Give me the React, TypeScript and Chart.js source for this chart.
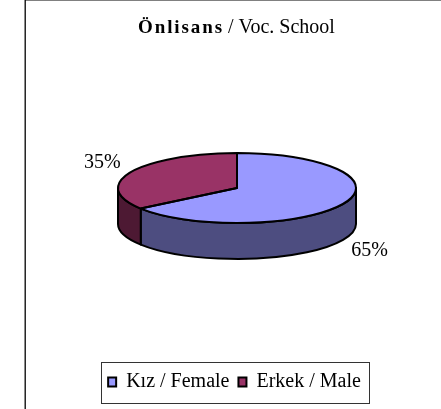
import React, { useEffect, useRef } from "react";
import { Chart, registerables } from "chart.js";

Chart.register(...registerables);

const categories = ["Kız / Female", "Erkek / Male"];
const values = [65, 35];
const topColors = ["#9999FF", "#993366"];
const sideColors = ["#4D4D80", "#4D1933"];
const titleBold = "Önlisans";
const titleRest = " / Voc. School";

const FONT = "'Liberation Serif', serif";
const CX = 237;
const CY = 188;
const RX = 119;
const RY = 35;
const DEPTH = 36;

const pie3d = {
  id: "pie3d",
  beforeDraw(chart: any) {
    const { ctx, width, height } = chart;
    ctx.save();
    ctx.fillStyle = "#fff";
    ctx.fillRect(0, 0, width, height);
    ctx.strokeStyle = "#808080";
    ctx.lineWidth = 1;
    ctx.beginPath();
    ctx.moveTo(25, 0.5);
    ctx.lineTo(width, 0.5);
    ctx.stroke();
    ctx.strokeStyle = "#000";
    ctx.lineWidth = 1.3;
    ctx.beginPath();
    ctx.moveTo(25.2, 0);
    ctx.lineTo(25.2, height);
    ctx.stroke();
    ctx.restore();

    ctx.save();
    ctx.fillStyle = "#000";
    ctx.textBaseline = "alphabetic";
    ctx.font = `bold 19px ${FONT}`;
    ctx.letterSpacing = "1.9px";
    ctx.fillText(titleBold, 138, 32.5);
    ctx.font = `20px ${FONT}`;
    ctx.letterSpacing = "0px";
    ctx.fillText(titleRest, 223, 32.5);
    ctx.restore();
  },
  beforeDatasetDraw(chart: any) {
    const { ctx } = chart;
    const arcs = chart.getDatasetMeta(0).data;
    const top = (a: number, d = 0) => [CX + RX * Math.cos(a), CY + RY * Math.sin(a) + d];
    arcs.forEach((arc: any, i: number) => {
      const norm = (a: number) => {
        const t = Math.PI * 2;
        return ((a % t) + t) % t;
      };
      const s = norm(arc.startAngle);
      let e = norm(arc.endAngle);
      if (e <= s) e += Math.PI * 2;
      const a1 = Math.max(s, 0);
      const a2 = Math.min(e, Math.PI);
      const ranges = s < Math.PI ? [[a1, a2]] : e > Math.PI * 2 ? [[0, Math.min(e - Math.PI * 2, Math.PI)]] : [];
      ranges.forEach(([p, q]) => {
        ctx.save();
        ctx.beginPath();
        ctx.ellipse(CX, CY, RX, RY, 0, p, q);
        const [bx, by] = top(q, DEPTH);
        ctx.lineTo(bx, by);
        ctx.ellipse(CX, CY + DEPTH, RX, RY, 0, q, p, true);
        ctx.closePath();
        ctx.fillStyle = sideColors[i];
        ctx.fill();
        ctx.strokeStyle = "#000";
        ctx.lineWidth = 2;
        ctx.lineJoin = "round";
        ctx.stroke();
        ctx.restore();
      });
    });
    const first = arcs[0];
    ctx.save();
    ctx.translate(CX, CY);
    ctx.scale(1, RY / RX);
    ctx.translate(-first.x, -first.y);
  },
  afterDatasetDraw(chart: any) {
    const { ctx } = chart;
    ctx.restore();
    const arcs = chart.getDatasetMeta(0).data;
    ctx.save();
    ctx.strokeStyle = "#000";
    ctx.lineWidth = 2;
    ctx.lineJoin = "round";
    arcs.forEach((arc: any) => {
      ctx.beginPath();
      ctx.moveTo(CX, CY);
      ctx.ellipse(CX, CY, RX, RY, 0, arc.startAngle, arc.endAngle);
      ctx.closePath();
      ctx.stroke();
    });
    ctx.restore();

    ctx.save();
    ctx.fillStyle = "#000";
    ctx.font = `20px ${FONT}`;
    ctx.textAlign = "center";
    ctx.textBaseline = "middle";
    arcs.forEach((arc: any, i: number) => {
      const mid = (arc.startAngle + arc.endAngle) / 2;
      const sin = Math.sin(mid);
      const x = CX - 1 + RX * 1.26 * Math.cos(mid);
      const y = CY + RY * 1.26 * sin + (sin > 0 ? DEPTH + 7 : -5);
      ctx.fillText(`${values[i]}%`, x, y);
    });
    ctx.restore();
  },
  afterDraw(chart: any) {
    const { ctx } = chart;
    ctx.save();
    ctx.strokeStyle = "#333";
    ctx.lineWidth = 1;
    ctx.strokeRect(101.5, 362.5, 268, 41);
    ctx.restore();
  },
};

export default function App() {
  const ref = useRef<HTMLCanvasElement>(null);
  useEffect(() => {
    document.body.style.margin = "0";
    const chart = new Chart(ref.current as HTMLCanvasElement, {
      type: "pie",
      data: {
        labels: categories,
        datasets: [
          {
            data: values,
            backgroundColor: topColors,
            borderWidth: 0,
            radius: RX,
            clip: false,
          } as any,
        ],
      },
      options: {
        responsive: false,
        animation: false,
        layout: { padding: { left: 28, right: 0, top: 60, bottom: 7 } },
        plugins: {
          tooltip: { enabled: false },
          legend: {
            position: "bottom",
            labels: {
              font: { family: FONT, size: 20 },
              color: "#000",
              boxWidth: 8,
              boxHeight: 9,
              padding: 9,
              generateLabels: () =>
                categories.map((text, i) => ({
                  text,
                  fillStyle: topColors[i],
                  strokeStyle: "#000",
                  lineWidth: 2,
                  index: i,
                  datasetIndex: 0,
                  hidden: false,
                })),
            },
          },
        },
      },
      plugins: [pie3d],
    });
    return () => chart.destroy();
  }, []);
  return <canvas ref={ref} width={441} height={409} style={{ display: "block" }} />;
}
